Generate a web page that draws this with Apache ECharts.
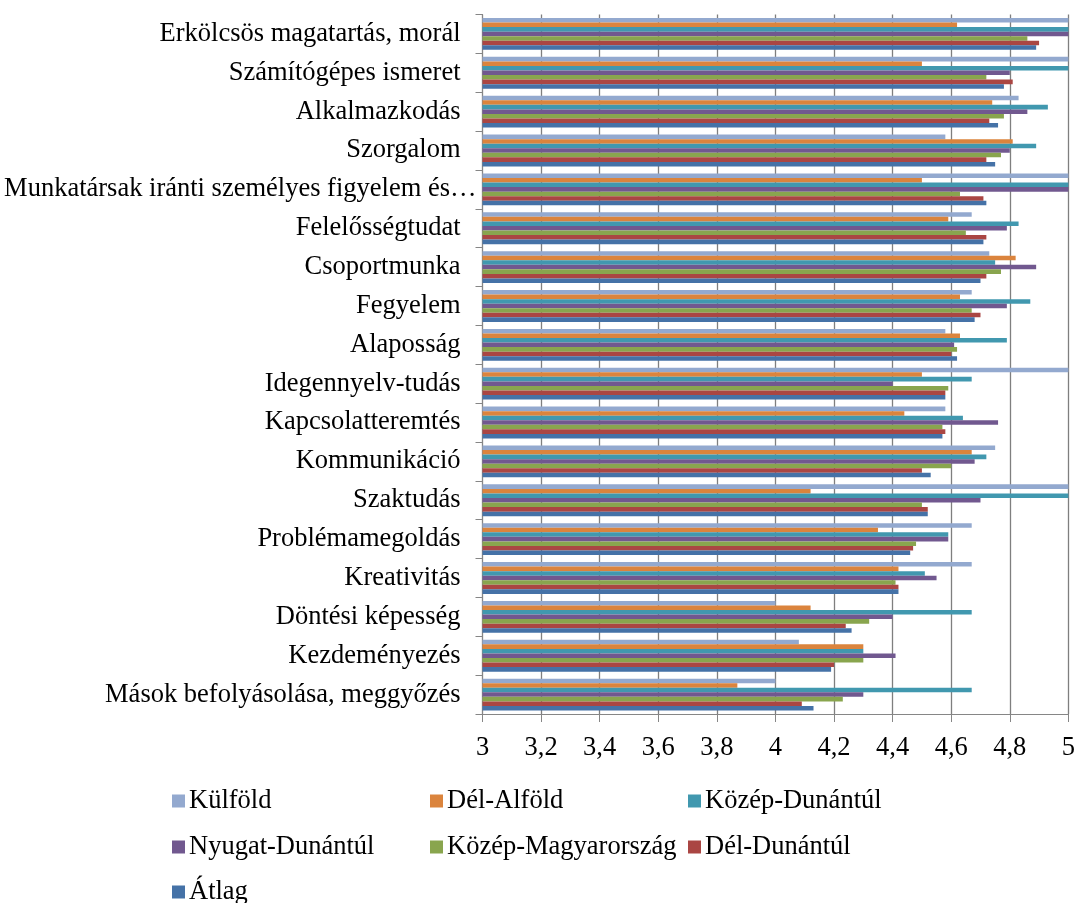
<!DOCTYPE html>
<html>
<head>
<meta charset="utf-8">
<script src="https://cdn.jsdelivr.net/npm/echarts@6/dist/echarts.min.js"></script>
<style>
html,body{margin:0;padding:0;background:#fff;}
#chart{width:1078px;height:903px;}
</style>
</head>
<body>
<div id="chart"></div>
<script>
var categories = ["Erkölcsös magatartás, morál","Számítógépes ismeret","Alkalmazkodás","Szorgalom","Munkatársak iránti személyes figyelem és…","Felelősségtudat","Csoportmunka","Fegyelem","Alaposság","Idegennyelv-tudás","Kapcsolatteremtés","Kommunikáció","Szaktudás","Problémamegoldás","Kreativitás","Döntési képesség","Kezdeményezés","Mások befolyásolása, meggyőzés"];
var seriesNames = ["Külföld","Dél-Alföld","Közép-Dunántúl","Nyugat-Dunántúl","Közép-Magyarország","Dél-Dunántúl","Átlag"];
var kulfold = [5, 5, 4.83, 4.58, 5, 4.67, 4.73, 4.67, 4.58, 5, 4.58, 4.75, 5, 4.67, 4.67, 4.0, 4.08, 4.0];
var delAlfold = [4.62, 4.5, 4.74, 4.81, 4.5, 4.59, 4.82, 4.63, 4.63, 4.5, 4.44, 4.67, 4.12, 4.35, 4.42, 4.12, 4.3, 3.87];
var kozepDunantul = [5, 5, 4.93, 4.89, 5, 4.83, 4.75, 4.87, 4.79, 4.67, 4.64, 4.72, 5, 4.59, 4.51, 4.67, 4.3, 4.67];
var nyugatDunantul = [5, 4.8, 4.86, 4.8, 5, 4.79, 4.89, 4.79, 4.61, 4.4, 4.76, 4.68, 4.7, 4.59, 4.55, 4.4, 4.41, 4.3];
var kozepMagyarorszag = [4.86, 4.72, 4.78, 4.77, 4.63, 4.65, 4.77, 4.67, 4.62, 4.59, 4.57, 4.6, 4.5, 4.48, 4.41, 4.32, 4.3, 4.23];
var delDunantul = [4.9, 4.81, 4.73, 4.72, 4.71, 4.72, 4.72, 4.7, 4.6, 4.58, 4.58, 4.5, 4.52, 4.47, 4.42, 4.24, 4.2, 4.09];
var atlag = [4.89, 4.78, 4.76, 4.75, 4.72, 4.71, 4.7, 4.68, 4.62, 4.58, 4.57, 4.53, 4.52, 4.46, 4.42, 4.26, 4.19, 4.13];
var xTicks = {min: 3, max: 5, interval: 0.2};

var values = [kulfold, delAlfold, kozepDunantul, nyugatDunantul, kozepMagyarorszag, delDunantul, atlag];
var colors = ["#93A9CF","#DB843D","#4198AF","#71588F","#89A54E","#AA4643","#4572A7"];
var FONT = "'Liberation Serif', 'Times New Roman', serif";
var FS = 26.5;

var chart = echarts.init(document.getElementById('chart'), null, {renderer: 'canvas'});

var series = seriesNames.map(function (n, i) {
  return {
    name: n, type: 'bar', data: values[i],
    barGap: '0%', barCategoryGap: '18%',
    itemStyle: {color: colors[i]},
    emphasis: {disabled: true}
  };
});

var colX = [172, 430, 688];
var rowCenter = [801, 847, 892];
var legends = seriesNames.map(function (n, i) {
  var c = i % 3, r = Math.floor(i / 3);
  return {
    data: [n], left: colX[c], top: rowCenter[r] - 15,
    icon: 'rect', itemWidth: 13, itemHeight: 13, itemGap: 0, padding: 0,
    selectedMode: false,
    textStyle: {fontFamily: FONT, fontSize: FS, color: '#000', lineHeight: 30, padding: [0,0,0,-1]}
  };
});

chart.setOption({
  animation: false,
  color: colors,
  grid: {left: 482.5, top: 14.5, width: 586.8, height: 699.5, containLabel: false},
  legend: legends,
  xAxis: {
    type: 'value', min: xTicks.min, max: xTicks.max, interval: xTicks.interval,
    axisLine: {show: true, lineStyle: {color: '#868686', width: 1}},
    axisTick: {show: true, length: 8, lineStyle: {color: '#868686'}},
    splitLine: {show: true, lineStyle: {color: '#7f7f7f', width: 1.3}},
    axisLabel: {
      color: '#000', fontFamily: FONT, fontSize: FS, margin: 21,
      formatter: function (v) { return String(Math.round(v * 10) / 10).replace('.', ','); }
    }
  },
  yAxis: {
    type: 'category', data: categories, inverse: true,
    axisLine: {show: true, lineStyle: {color: '#868686', width: 1}},
    axisTick: {show: true, length: 7, lineStyle: {color: '#868686'}},
    splitLine: {show: false},
    axisLabel: {
      color: '#000', fontFamily: FONT, fontSize: FS, margin: 6, interval: 0,
      formatter: function (v) { return v.slice(-1) === '…' ? '{b|' + v + '}' : '{a|' + v + '}'; },
      rich: {
        a: {fontFamily: FONT, fontSize: FS, color: '#000', padding: [0, 16, 0, 0]},
        b: {fontFamily: FONT, fontSize: FS, color: '#000', padding: [0, 0, 0, 0]}
      }
    }
  },
  series: series
});
</script>
</body>
</html>
